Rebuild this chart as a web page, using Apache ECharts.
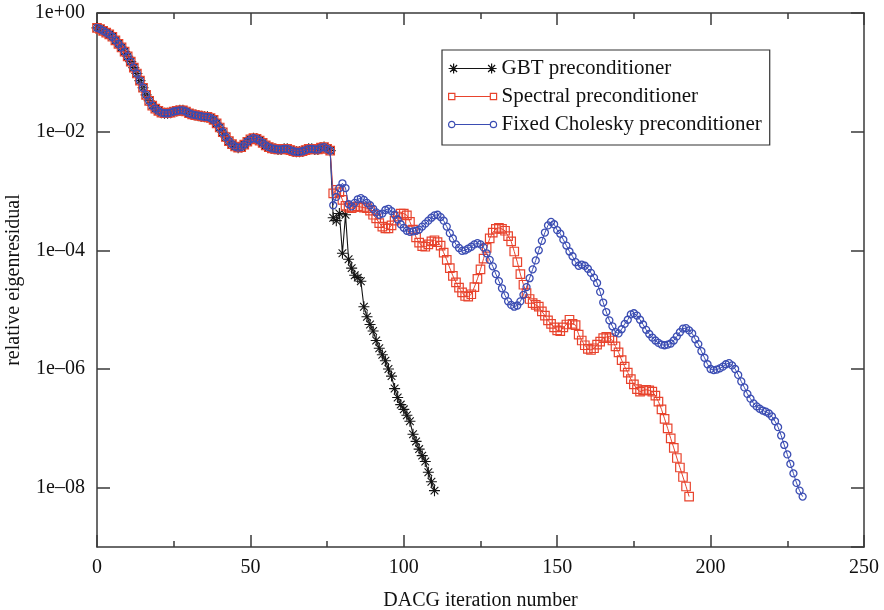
<!DOCTYPE html>
<html>
<head>
<meta charset="utf-8">
<title>DACG convergence</title>
<script src="https://cdn.jsdelivr.net/npm/echarts@6/dist/echarts.min.js"></script>
<style>
  html, body { margin: 0; padding: 0; background: #fff; }
  #chart { width: 884px; height: 610px; }
</style>
</head>
<body>
<div id="chart"></div>
<script>
// Residual history (log10 of the relative eigenresidual), one value per iteration.
// Iterations 0..76 coincide for all three preconditioners.
const sharedLog10 = [
  -0.25, -0.27, -0.30, -0.33, -0.36, -0.40, -0.46, -0.52, -0.58, -0.65,
  -0.73, -0.82, -0.92, -1.02, -1.14, -1.26, -1.38, -1.48, -1.56, -1.61,
  -1.65, -1.68, -1.69, -1.69, -1.68, -1.66, -1.65, -1.64, -1.64, -1.66,
  -1.69, -1.71, -1.72, -1.73, -1.74, -1.75, -1.75, -1.77, -1.80, -1.86,
  -1.93, -2.01, -2.09, -2.16, -2.21, -2.25, -2.27, -2.26, -2.22, -2.17,
  -2.13, -2.11, -2.12, -2.15, -2.19, -2.23, -2.26, -2.28, -2.29, -2.30,
  -2.30, -2.29, -2.29, -2.31, -2.33, -2.34, -2.34, -2.33, -2.31, -2.29,
  -2.29, -2.30, -2.30, -2.27, -2.26, -2.29, -2.32
];

// Iterations 77..110
const gbtTailLog10 = [
  -3.45, -3.50, -3.38, -4.05, -3.40, -4.15, -4.30, -4.42, -4.46, -4.52,
  -4.95, -5.12, -5.25, -5.36, -5.52, -5.65, -5.76, -5.86, -6.00, -6.12,
  -6.33, -6.48, -6.60, -6.68, -6.78, -6.88, -7.10, -7.22, -7.35, -7.46,
  -7.56, -7.74, -7.90, -8.05
];

// Iterations 77..193
const spectralTailLog10 = [
  -3.04, -2.98, -3.02, -3.15, -3.25, -3.28, -3.29, -3.27, -3.26, -3.27,
  -3.28, -3.29, -3.33, -3.40, -3.46, -3.54, -3.60, -3.63, -3.63, -3.58,
  -3.50, -3.43, -3.38, -3.38, -3.41, -3.52, -3.65, -3.78, -3.87, -3.93,
  -3.94, -3.90, -3.85, -3.83, -3.86, -3.92, -4.04, -4.16, -4.30, -4.43,
  -4.54, -4.63, -4.71, -4.77, -4.78, -4.74, -4.62, -4.48, -4.32, -4.14,
  -3.96, -3.80, -3.70, -3.64, -3.62, -3.64, -3.67, -3.76, -3.85, -4.02,
  -4.20, -4.40, -4.58, -4.72, -4.82, -4.89, -4.92, -4.95, -5.03, -5.10,
  -5.18, -5.24, -5.30, -5.35, -5.36, -5.30, -5.25, -5.17, -5.24, -5.26,
  -5.42, -5.52, -5.60, -5.66, -5.68, -5.65, -5.59, -5.54, -5.48, -5.46,
  -5.48, -5.52, -5.62, -5.72, -5.85, -5.96, -6.06, -6.17, -6.26, -6.34,
  -6.38, -6.36, -6.35, -6.36, -6.38, -6.45, -6.55, -6.68, -6.84, -7.00,
  -7.17, -7.33, -7.50, -7.66, -7.82, -7.98, -8.15
];

// Iterations 77..230
const choleskyTailLog10 = [
  -3.24, -3.10, -2.95, -2.87, -2.95, -3.22, -3.26, -3.20, -3.14, -3.12,
  -3.15, -3.20, -3.24, -3.30, -3.36, -3.40, -3.38, -3.32, -3.30, -3.34,
  -3.40, -3.48, -3.56, -3.62, -3.67, -3.69, -3.68, -3.67, -3.65, -3.60,
  -3.55, -3.50, -3.45, -3.41, -3.40, -3.44, -3.50, -3.60, -3.71, -3.80,
  -3.90, -3.96, -4.01, -4.00, -3.97, -3.94, -3.90, -3.88, -3.90, -3.95,
  -4.05, -4.16, -4.27, -4.40, -4.52, -4.64, -4.76, -4.86, -4.92, -4.95,
  -4.93, -4.86, -4.75, -4.62, -4.47, -4.32, -4.17, -4.00, -3.84, -3.70,
  -3.58, -3.52, -3.56, -3.66, -3.72, -3.82, -3.92, -4.02, -4.10, -4.20,
  -4.26, -4.24, -4.26, -4.31, -4.38, -4.46, -4.55, -4.70, -4.88, -5.04,
  -5.18, -5.28, -5.38, -5.40, -5.33, -5.24, -5.17, -5.08, -5.06, -5.10,
  -5.17, -5.25, -5.34, -5.41, -5.47, -5.52, -5.56, -5.59, -5.60, -5.59,
  -5.57, -5.52, -5.45, -5.38, -5.32, -5.31, -5.35, -5.40, -5.50, -5.58,
  -5.70, -5.81, -5.92, -6.00, -6.02, -6.01, -5.99, -5.96, -5.92, -5.90,
  -5.94, -6.00, -6.10, -6.21, -6.31, -6.42, -6.50, -6.58, -6.63, -6.67,
  -6.70, -6.72, -6.75, -6.80, -6.88, -6.98, -7.12, -7.28, -7.44, -7.60,
  -7.76, -7.92, -8.05, -8.15
];

const seriesNames = ['GBT preconditioner', 'Spectral preconditioner', 'Fixed Cholesky preconditioner'];
const xTitle = 'DACG iteration number';
const yTitle = 'relative eigenresidual';

const FONT = '"Liberation Serif", "Times New Roman", serif';
const AXIS = '#3a3a3a';
const RED = '#e8432d';
const BLUE = '#3b4db3';
const BLACK = '#141414';

function toPairs(head, tail) {
  return head.concat(tail).map((e, i) => [i, Math.pow(10, e)]);
}

function decadeLabel(v) {
  const e = Math.round(Math.log10(v));
  return '1e' + (e >= 0 ? '+' : '\u2013') + String(Math.abs(e)).padStart(2, '0');
}

// eight-spoke asterisk marker
const asterisk = 'path://M5,0L5,10M0,5L10,5M1.5,1.5L8.5,8.5M1.5,8.5L8.5,1.5';

// legend keys: a short line with the marker at each end
const gbtKey = 'path://M5,1L5,11M0,6L10,6M1.5,2.5L8.5,9.5M1.5,9.5L8.5,2.5' +
  'M43,1L43,11M38,6L48,6M39.5,2.5L46.5,9.5M39.5,9.5L46.5,2.5M5,6L43,6';
const spectralKey = 'path://M1,3L7,3L7,9L1,9ZM41,3L47,3L47,9L41,9ZM7,6L41,6';
const choleskyKey = 'path://M7,6A3,3,0,1,0,1,6A3,3,0,1,0,7,6ZM47,6A3,3,0,1,0,41,6A3,3,0,1,0,47,6ZM7,6L41,6';

const xBase = {
  type: 'value', min: 0, max: 250, interval: 50,
  axisLine: { show: true, onZero: false, lineStyle: { color: AXIS, width: 1.5 } },
  axisTick: { show: true, inside: true, length: 12, lineStyle: { color: AXIS, width: 1.5 } },
  minorTick: { show: true, splitNumber: 2, length: 6, lineStyle: { color: AXIS, width: 1.5 } },
  splitLine: { show: false }, minorSplitLine: { show: false }
};
const yBase = {
  type: 'log', logBase: 100, min: 1e-9, max: 1,
  axisLine: { show: true, onZero: false, lineStyle: { color: AXIS, width: 1.5 } },
  axisTick: { show: true, inside: true, length: 13, lineStyle: { color: AXIS, width: 1.5 } },
  splitLine: { show: false }, minorTick: { show: false }
};

const chart = echarts.init(document.getElementById('chart'), null, { renderer: 'canvas' });
chart.setOption({
  animation: false,
  backgroundColor: '#fff',
  textStyle: { fontFamily: FONT },
  grid: { left: 97, right: 20, top: 13, bottom: 63, containLabel: false, outerBoundsMode: 'none' },
  legend: {
    orient: 'vertical', left: 442, top: 50,
    padding: [8, 8, 10, 6], itemGap: 7, itemWidth: 48, itemHeight: 12,
    borderColor: '#333', borderWidth: 1.2, backgroundColor: '#fff',
    itemStyle: { borderWidth: 1.2 },
    textStyle: { fontFamily: FONT, fontSize: 21, color: '#111' },
    data: [
      { name: seriesNames[0], icon: gbtKey },
      { name: seriesNames[1], icon: spectralKey },
      { name: seriesNames[2], icon: choleskyKey }
    ]
  },
  xAxis: [
    Object.assign({}, xBase, {
      position: 'bottom',
      name: xTitle, nameLocation: 'middle', nameGap: 44,
      nameTextStyle: { fontFamily: FONT, fontSize: 20, color: '#111' },
      axisLabel: { show: true, margin: 11, fontFamily: FONT, fontSize: 20, color: '#111' }
    }),
    Object.assign({}, xBase, { position: 'top', axisLabel: { show: false } })
  ],
  yAxis: [
    Object.assign({}, yBase, {
      position: 'left',
      name: yTitle, nameLocation: 'middle', nameGap: 71,
      nameTextStyle: { fontFamily: FONT, fontSize: 20, color: '#111' },
      axisLabel: { show: true, margin: 12, fontFamily: FONT, fontSize: 20, color: '#111',
                   showMinLabel: false, formatter: decadeLabel }
    }),
    Object.assign({}, yBase, { position: 'right', axisLabel: { show: false } })
  ],
  series: [
    {
      name: seriesNames[0], type: 'line', z: 2,
      data: toPairs(sharedLog10, gbtTailLog10),
      symbol: asterisk, symbolSize: 11, showSymbol: true,
      itemStyle: { color: BLACK, borderColor: BLACK, borderWidth: 1.1 },
      lineStyle: { color: BLACK, width: 1.1 }
    },
    {
      name: seriesNames[1], type: 'line', z: 3,
      data: toPairs(sharedLog10, spectralTailLog10),
      symbol: 'rect', symbolSize: 8.5, showSymbol: true,
      itemStyle: { color: 'rgba(255,255,255,0)', borderColor: RED, borderWidth: 1.2 },
      lineStyle: { color: RED, width: 1 }
    },
    {
      name: seriesNames[2], type: 'line', z: 4,
      data: toPairs(sharedLog10, choleskyTailLog10),
      symbol: 'circle', symbolSize: 7, showSymbol: true,
      itemStyle: { color: 'rgba(255,255,255,0)', borderColor: BLUE, borderWidth: 1.3 },
      lineStyle: { color: BLUE, width: 1 }
    }
  ]
});
</script>
</body>
</html>
